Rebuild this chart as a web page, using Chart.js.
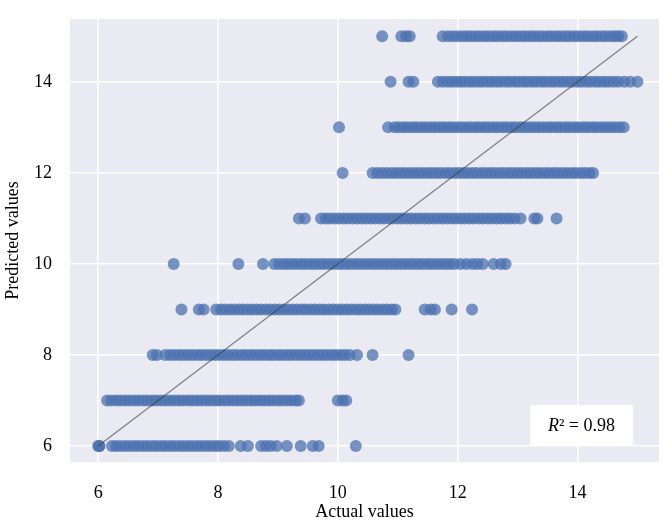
<!DOCTYPE html>
<html>
<head>
<meta charset="utf-8">
<script src="https://cdn.jsdelivr.net/npm/chart.js@4/dist/chart.umd.min.js"></script>
<style>
  body { margin: 0; background: #fff; }
  canvas { display: block; }
</style>
</head>
<body>
<canvas id="grafico" width="665" height="527"></canvas>
<script>
const predictedLevels = [6, 7, 8, 9, 10, 11, 12, 13, 14, 15];

const actualAt6 = [6.0, 6.02, 6.02, 6.23, 6.3, 6.37, 6.45, 6.52, 6.6, 6.67, 6.75, 6.82, 6.9, 6.97, 7.05, 7.12, 7.2, 7.27, 7.35, 7.42, 7.5, 7.57, 7.65, 7.72, 7.8, 7.87, 7.95, 8.02, 8.1, 8.18, 8.38, 8.5, 8.72, 8.8, 8.88, 8.98, 9.15, 9.38, 9.58, 9.68, 10.3];
const actualAt7 = [6.15, 6.22, 6.3, 6.37, 6.45, 6.52, 6.6, 6.67, 6.75, 6.82, 6.9, 6.97, 7.05, 7.12, 7.2, 7.27, 7.35, 7.42, 7.5, 7.57, 7.65, 7.72, 7.8, 7.87, 7.95, 8.02, 8.1, 8.17, 8.25, 8.32, 8.4, 8.47, 8.55, 8.62, 8.7, 8.77, 8.85, 8.92, 9.0, 9.07, 9.15, 9.22, 9.3, 9.35, 10.0, 10.08, 10.14];
const actualAt8 = [6.91, 6.98, 7.12, 7.2, 7.27, 7.35, 7.42, 7.5, 7.57, 7.65, 7.72, 7.8, 7.87, 7.95, 8.02, 8.1, 8.17, 8.25, 8.32, 8.4, 8.47, 8.55, 8.62, 8.7, 8.77, 8.85, 8.92, 9.0, 9.07, 9.15, 9.22, 9.3, 9.37, 9.45, 9.52, 9.6, 9.67, 9.75, 9.82, 9.9, 9.97, 10.05, 10.12, 10.2, 10.32, 10.58, 11.18];
const actualAt9 = [7.39, 7.68, 7.76, 7.97, 8.05, 8.12, 8.2, 8.27, 8.35, 8.42, 8.5, 8.57, 8.65, 8.72, 8.8, 8.87, 8.95, 9.02, 9.1, 9.17, 9.25, 9.32, 9.4, 9.47, 9.55, 9.62, 9.7, 9.77, 9.85, 9.92, 10.0, 10.07, 10.15, 10.22, 10.3, 10.37, 10.45, 10.52, 10.6, 10.67, 10.75, 10.82, 10.9, 10.96, 11.45, 11.55, 11.62, 11.9, 12.24];
const actualAt10 = [7.26, 8.34, 8.75, 8.94, 9.02, 9.1, 9.17, 9.25, 9.32, 9.4, 9.47, 9.55, 9.62, 9.7, 9.77, 9.85, 9.92, 10.0, 10.07, 10.15, 10.22, 10.3, 10.37, 10.45, 10.52, 10.6, 10.67, 10.75, 10.82, 10.9, 10.97, 11.05, 11.12, 11.2, 11.27, 11.35, 11.42, 11.5, 11.57, 11.65, 11.72, 11.8, 11.87, 11.95, 12.05, 12.15, 12.25, 12.33, 12.42, 12.6, 12.72, 12.8];
const actualAt11 = [9.35, 9.45, 9.72, 9.8, 9.87, 9.95, 10.02, 10.1, 10.17, 10.25, 10.32, 10.4, 10.47, 10.55, 10.62, 10.7, 10.77, 10.85, 10.92, 11.0, 11.07, 11.15, 11.22, 11.3, 11.37, 11.45, 11.52, 11.6, 11.67, 11.75, 11.82, 11.9, 11.97, 12.05, 12.12, 12.2, 12.27, 12.35, 12.42, 12.5, 12.57, 12.65, 12.72, 12.8, 12.87, 12.95, 13.05, 13.28, 13.33, 13.65];
const actualAt12 = [10.08, 10.58, 10.66, 10.74, 10.82, 10.9, 10.97, 11.05, 11.12, 11.2, 11.27, 11.35, 11.42, 11.5, 11.57, 11.65, 11.72, 11.8, 11.87, 11.95, 12.02, 12.1, 12.17, 12.25, 12.32, 12.4, 12.47, 12.55, 12.62, 12.7, 12.77, 12.85, 12.92, 13.0, 13.07, 13.15, 13.22, 13.3, 13.37, 13.45, 13.52, 13.6, 13.67, 13.75, 13.82, 13.9, 13.97, 14.05, 14.12, 14.2, 14.26];
const actualAt13 = [10.02, 10.84, 10.95, 11.02, 11.1, 11.17, 11.25, 11.32, 11.4, 11.47, 11.55, 11.62, 11.7, 11.77, 11.85, 11.92, 12.0, 12.07, 12.15, 12.22, 12.3, 12.37, 12.45, 12.52, 12.6, 12.67, 12.75, 12.82, 12.9, 12.97, 13.05, 13.12, 13.2, 13.27, 13.35, 13.42, 13.5, 13.57, 13.65, 13.72, 13.8, 13.87, 13.95, 14.02, 14.1, 14.17, 14.25, 14.32, 14.4, 14.47, 14.55, 14.62, 14.7, 14.77];
const actualAt14 = [10.88, 11.18, 11.26, 11.67, 11.75, 11.83, 11.9, 11.98, 12.05, 12.12, 12.2, 12.27, 12.35, 12.42, 12.5, 12.57, 12.65, 12.72, 12.8, 12.87, 12.95, 13.02, 13.1, 13.17, 13.25, 13.32, 13.4, 13.47, 13.55, 13.62, 13.7, 13.77, 13.85, 13.92, 14.0, 14.07, 14.15, 14.22, 14.3, 14.37, 14.45, 14.52, 14.6, 14.68, 14.78, 14.88, 15.0];
const actualAt15 = [10.74, 11.06, 11.14, 11.2, 11.75, 11.84, 11.92, 12.0, 12.08, 12.15, 12.22, 12.3, 12.37, 12.45, 12.52, 12.6, 12.67, 12.75, 12.82, 12.9, 12.97, 13.05, 13.12, 13.2, 13.27, 13.35, 13.42, 13.5, 13.57, 13.65, 13.72, 13.8, 13.87, 13.95, 14.02, 14.1, 14.17, 14.25, 14.32, 14.4, 14.47, 14.55, 14.62, 14.68, 14.74];

// reference line y = x
const idealLine = [6, 15];

const xTicks = [6, 8, 10, 12, 14];
const yTicks = [6, 8, 10, 12, 14];
const r2Score = 0.98;

const rows = [actualAt6, actualAt7, actualAt8, actualAt9, actualAt10, actualAt11, actualAt12, actualAt13, actualAt14, actualAt15];
const pontos = [];
rows.forEach((row, i) => row.forEach(x => pontos.push({ x: x, y: predictedLevels[i] })));

const fonte = "'Liberation Serif', 'Times New Roman', serif";

// caixa branca com o R² no canto inferior direito
const caixaR2 = {
  id: 'caixaR2',
  afterDatasetsDraw(chart) {
    const { ctx, chartArea } = chart;
    const w = 103, h = 40;
    const x0 = chartArea.right - 26 - w;
    const y0 = chartArea.bottom - 17 - h;
    ctx.save();
    ctx.fillStyle = '#ffffff';
    ctx.fillRect(x0, y0, w, h);
    ctx.fillStyle = '#000';
    ctx.textBaseline = 'middle';
    const resto = '\u00b2 = ' + r2Score.toFixed(2);
    ctx.font = 'italic 18px ' + fonte;
    const wR = ctx.measureText('R').width;
    ctx.font = '18px ' + fonte;
    const wResto = ctx.measureText(resto).width;
    let tx = x0 + (w - wR - wResto) / 2;
    const ty = y0 + h / 2 + 1;
    ctx.font = 'italic 18px ' + fonte;
    ctx.fillText('R', tx, ty);
    ctx.font = '18px ' + fonte;
    ctx.fillText(resto, tx + wR, ty);
    ctx.restore();
  }
};

const fundo = {
  id: 'fundo',
  beforeDraw(chart) {
    const { ctx, chartArea } = chart;
    ctx.save();
    ctx.fillStyle = '#EAEAF2';
    ctx.fillRect(chartArea.left, chartArea.top, chartArea.right - chartArea.left, chartArea.bottom - chartArea.top);
    ctx.restore();
  }
};

new Chart(document.getElementById('grafico'), {
  type: 'scatter',
  data: {
    datasets: [
      {
        type: 'line',
        label: 'ideal',
        data: idealLine.map(v => ({ x: v, y: v })),
        borderColor: 'rgba(60,60,60,0.6)',
        borderWidth: 1.3,
        pointRadius: 0,
        fill: false,
        order: 0
      },
      {
        label: 'pontos',
        data: pontos,
        backgroundColor: 'rgba(76,114,176,0.75)',
        borderWidth: 0,
        pointRadius: 6,
        order: 1
      }
    ]
  },
  options: {
    responsive: false,
    animation: false,
    layout: { padding: { top: 19, right: 0, left: 0, bottom: 0 } },
    plugins: { legend: { display: false }, tooltip: { enabled: false } },
    scales: {
      x: {
        type: 'linear',
        min: 5.53,
        max: 15.36,
        afterFit(scale) { scale.height = 65; scale.paddingLeft = 0; scale.paddingRight = 0; },
        afterBuildTicks(scale) { scale.ticks = xTicks.map(v => ({ value: v })); },
        grid: { color: '#ffffff', lineWidth: 1.6, drawTicks: false },
        border: { display: false },
        ticks: { color: '#000', padding: 20, font: { family: fonte, size: 18 } },
        title: { display: true, text: 'Actual values', color: '#000', padding: { top: 0, bottom: 4 }, font: { family: fonte, size: 18 } }
      },
      y: {
        type: 'linear',
        min: 5.65,
        max: 15.38,
        afterFit(scale) { scale.width = 70; scale.paddingTop = 0; scale.paddingBottom = 0; },
        afterBuildTicks(scale) { scale.ticks = yTicks.map(v => ({ value: v })); },
        grid: { color: '#ffffff', lineWidth: 1.6, drawTicks: false },
        border: { display: false },
        ticks: { color: '#000', padding: 18, font: { family: fonte, size: 18 } },
        title: { display: true, text: 'Predicted values', color: '#000', padding: { top: 2, bottom: 0 }, font: { family: fonte, size: 18 } }
      }
    }
  },
  plugins: [fundo, caixaR2]
});
</script>
</body>
</html>
